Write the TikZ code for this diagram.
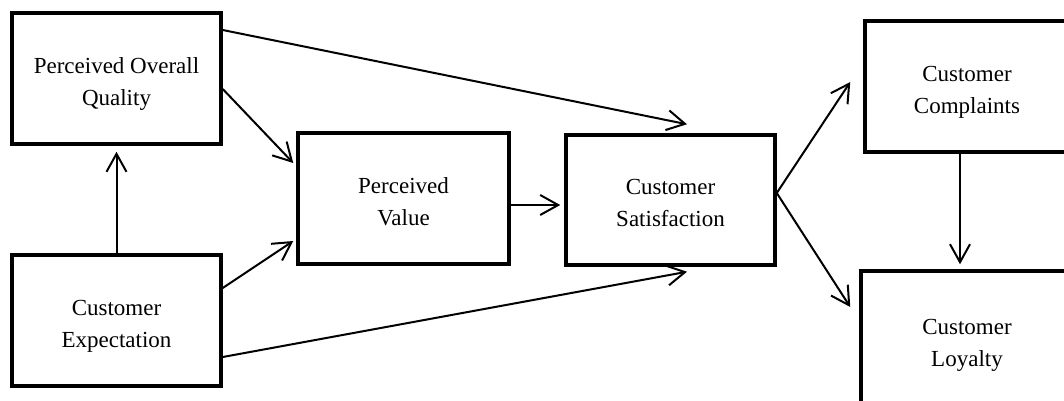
\documentclass[tikz,border=0pt]{standalone}
\usepackage{fontspec}
\setmainfont{Liberation Serif}
\usetikzlibrary{arrows.meta}
\begin{document}
\begin{tikzpicture}[x=1pt,y=-1pt,
  box/.style={draw, line width=3.5pt, align=center, inner sep=0pt,
    font=\fontsize{23}{32}\selectfont, text height=58pt, text depth=5pt},
  flow/.style={line width=2pt, -{Straight Barb[length=18pt,width=20pt]}},
]
\useasboundingbox (0,0) rectangle (1064,400);
\clip (0,0) rectangle (1064,400);

% boxes
\node[box, minimum width=209pt, minimum height=131pt] (poq) at (116.5,78.5) {Perceived Overall\\Quality};
\node[box, minimum width=209pt, minimum height=131pt] (ce)  at (116.5,320.5) {Customer\\Expectation};
\node[box, minimum width=211pt, minimum height=131pt] (pv)  at (403.5,198.5) {Perceived\\Value};
\node[box, minimum width=209pt, minimum height=130pt] (cs)  at (670.5,200) {Customer\\Satisfaction};
\node[box, minimum width=204pt, minimum height=131pt] (cc)  at (967,86.5) {Customer\\Complaints};
\node[box, minimum width=212pt, minimum height=138pt] (cl)  at (967,340) {Customer\\Loyalty};

% connectors
\draw[flow] ([yshift=48.5pt]poq.east) -- ([xshift=16.5pt,yshift=9pt]cs.north);
\draw[flow] ([yshift=-10.5pt]poq.east) -- ([xshift=-3pt,yshift=35.5pt]pv.west);
\draw[flow] ([yshift=32.5pt]ce.east) -- ([xshift=-3pt,yshift=-42.5pt]pv.west);
\draw[flow] ([yshift=-36.5pt]ce.east) -- ([xshift=16.5pt,yshift=-5pt]cs.south);
\draw[flow, shorten >=6pt] (ce.north) -- (poq.south);
\draw[flow] ([yshift=-6.5pt]pv.east) -- ([xshift=-4pt,yshift=-5pt]cs.west);
\draw[flow] ([yshift=7pt]cs.east) -- ([xshift=-13pt,yshift=4.5pt]cc.west);
\draw[flow] ([yshift=7pt]cs.east) -- ([xshift=-9pt,yshift=33pt]cl.west);
\draw[flow, shorten >=5pt] ([xshift=-7pt]cc.south) -- ([xshift=-7pt]cl.north);
\end{tikzpicture}
\end{document}
